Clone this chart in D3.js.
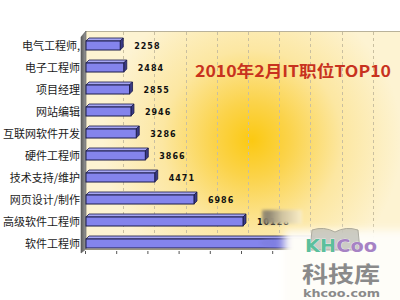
<!DOCTYPE html>
<html>
<head>
<meta charset="utf-8">
<script src="https://cdn.jsdelivr.net/npm/d3@7"></script>
<style>
  html, body { margin: 0; padding: 0; background: #fff; }
  svg { display: block; }
</style>
</head>
<body>
<svg id="chart" width="400" height="300"></svg>
<script>
// IT job postings, February 2010 (top 10)
const categories = ["电气工程师,", "电子工程师", "项目经理", "网站编辑", "互联网软件开发",
                    "硬件工程师", "技术支持/维护", "网页设计/制作", "高级软件工程师", "软件工程师"];
const values = [2258, 2484, 2855, 2946, 3286, 3866, 4471, 6986, 10128, 14500];
const tickValues = [0, 2000, 4000, 6000, 8000, 10000, 12000, 14000, 16000, 18000, 20000];
const title = "2010年2月IT职位TOP10";

const svg = d3.select("#chart");
const defs = svg.append("defs");

// scales
const x = d3.scaleLinear().domain([0, 20000]).range([85, 397]);
const y = d3.scaleBand().domain(categories).range([34.5, 254.5])
  .paddingInner(0.59).paddingOuter(0.295);

const depth = 6;          // depth of the chart box
const barDepth = 3;       // depth of each bar
const backTop = 31, floorY = 249;

// back wall glow
const glow = defs.append("radialGradient").attr("id", "glow")
  .attr("gradientUnits", "userSpaceOnUse")
  .attr("cx", 252).attr("cy", 140).attr("r", 150);
glow.append("stop").attr("offset", 0).attr("stop-color", "#fbc912");
glow.append("stop").attr("offset", 0.25).attr("stop-color", "#fbd34a");
glow.append("stop").attr("offset", 0.6).attr("stop-color", "#fce7a2");
glow.append("stop").attr("offset", 1).attr("stop-color", "#fdf3d2");

const wallGrad = defs.append("linearGradient").attr("id", "wall")
  .attr("x1", 0).attr("x2", 1).attr("y1", 0).attr("y2", 0);
wallGrad.append("stop").attr("offset", 0).attr("stop-color", "#5c5c5c");
wallGrad.append("stop").attr("offset", 1).attr("stop-color", "#9a9a9a");

const smudge = defs.append("linearGradient").attr("id", "smudge")
  .attr("x1", 0).attr("x2", 1).attr("y1", 0).attr("y2", 0);
smudge.append("stop").attr("offset", 0).attr("stop-color", "#8a8270").attr("stop-opacity", 0.8);
smudge.append("stop").attr("offset", 0.15).attr("stop-color", "#8a8270").attr("stop-opacity", 0.97);
smudge.append("stop").attr("offset", 0.5).attr("stop-color", "#cfc3a0").attr("stop-opacity", 1);
smudge.append("stop").attr("offset", 1).attr("stop-color", "#fbeec6").attr("stop-opacity", 1);

// two-colour fill for the logo letters
const logoFill = defs.append("linearGradient").attr("id", "logoFill")
  .attr("gradientUnits", "userSpaceOnUse")
  .attr("x1", 305).attr("x2", 377).attr("y1", 0).attr("y2", 0);
logoFill.append("stop").attr("offset", 0).attr("stop-color", "#5cbf9c");
logoFill.append("stop").attr("offset", 0.4).attr("stop-color", "#5cbf9c");
logoFill.append("stop").attr("offset", 0.4).attr("stop-color", "#a682c4");
logoFill.append("stop").attr("offset", 1).attr("stop-color", "#a682c4");

const blur = defs.append("filter").attr("id", "soft")
  .attr("x", -0.5).attr("y", -0.5).attr("width", 2).attr("height", 2);
blur.append("feGaussianBlur").attr("stdDeviation", 4);
const blur2 = defs.append("filter").attr("id", "soft2")
  .attr("x", -0.5).attr("y", -0.5).attr("width", 2).attr("height", 2);
blur2.append("feGaussianBlur").attr("stdDeviation", 1.5);

// back wall
svg.append("rect")
  .attr("x", x(0) + 1).attr("y", backTop)
  .attr("width", 400 - x(0)).attr("height", floorY - backTop)
  .attr("fill", "url(#glow)");
svg.append("line")
  .attr("x1", x(0) + 1).attr("x2", 400).attr("y1", backTop + 0.5).attr("y2", backTop + 0.5)
  .attr("stroke", "#b9b29a").attr("stroke-width", 1);

// dashed grid lines on the back wall
svg.append("g").selectAll("line")
  .data(tickValues.filter(d => d > 0))
  .join("line")
  .attr("x1", d => Math.round(x(d) + depth + 1) + 0.5)
  .attr("x2", d => Math.round(x(d) + depth + 1) + 0.5)
  .attr("y1", backTop + 1).attr("y2", floorY - 1)
  .attr("stroke", "#c9bfa0").attr("stroke-width", 1)
  .attr("stroke-dasharray", "3,3");

// left wall
svg.append("polygon")
  .attr("points", [[x(0) - 4, backTop + depth], [x(0) + 1, backTop],
                   [x(0) + 1, floorY], [x(0) - 4, floorY + 4]].join(" "))
  .attr("fill", "url(#wall)").attr("stroke", "#555").attr("stroke-width", 0.6);

// floor line and ticks
svg.append("line")
  .attr("x1", x(0)).attr("x2", 400).attr("y1", floorY + 0.5).attr("y2", floorY + 0.5)
  .attr("stroke", "#9a9480").attr("stroke-width", 1);
const xAxis = d3.axisBottom(x).tickValues(tickValues).tickSize(3).tickFormat("");
svg.append("g").attr("transform", `translate(0,${floorY + 2})`).call(xAxis)
  .call(g => g.select(".domain").remove())
  .call(g => g.selectAll(".tick line").attr("stroke", "#555"));

// bars
const bars = svg.append("g").selectAll("g")
  .data(categories.map((c, i) => ({ c, v: values[i] })))
  .join("g");

bars.append("polygon") // top face
  .attr("points", d => {
    const y0 = y(d.c), x1 = x(d.v);
    return [[x(0) + 1, y0], [x(0) + 1 + barDepth, y0 - barDepth],
            [x1 + barDepth, y0 - barDepth], [x1, y0]].join(" ");
  })
  .attr("fill", "#a6a6f2").attr("stroke", "#1c1c4a").attr("stroke-width", 0.8);

bars.append("polygon") // side face
  .attr("points", d => {
    const y0 = y(d.c), x1 = x(d.v), h = y.bandwidth();
    return [[x1, y0], [x1 + barDepth, y0 - barDepth],
            [x1 + barDepth, y0 + h - barDepth], [x1, y0 + h]].join(" ");
  })
  .attr("fill", "#3a3a86").attr("stroke", "#1c1c4a").attr("stroke-width", 0.8);

bars.append("rect") // front face
  .attr("x", x(0) + 1).attr("y", d => y(d.c))
  .attr("width", d => x(d.v) - x(0) - 1).attr("height", y.bandwidth())
  .attr("fill", "#8484ec").attr("stroke", "#1c1c4a").attr("stroke-width", 1);

// value labels
bars.append("text")
  .attr("x", d => x(d.v) + barDepth + 11)
  .attr("y", d => y(d.c) + y.bandwidth() / 2 + 3)
  .attr("font-family", "DejaVu Sans, Verdana, sans-serif")
  .attr("font-size", 8).attr("font-weight", "bold")
  .attr("letter-spacing", 1)
  .attr("fill", "#111")
  .text(d => d.v);

// category labels
svg.append("g").selectAll("text")
  .data(categories)
  .join("text")
  .attr("x", 80)
  .attr("y", d => y(d) + y.bandwidth() / 2 + 4.5)
  .attr("text-anchor", "end")
  .attr("font-family", "Noto Sans CJK SC, sans-serif")
  .attr("font-size", 11)
  .attr("fill", "#1a1a1a")
  .text(d => d);

// title
svg.append("text")
  .attr("x", 195).attr("y", 76.5)
  .attr("font-family", "Noto Sans CJK SC, sans-serif")
  .attr("font-size", 16).attr("font-weight", "bold")
  .attr("fill", "#c8321e")
  .attr("textLength", 196).attr("lengthAdjust", "spacingAndGlyphs")
  .text(title);

// site mark in the lower right corner
const mark = svg.append("g");
mark.append("rect").attr("x", 262).attr("y", 210).attr("width", 40).attr("height", 14)
  .attr("fill", "url(#smudge)").attr("filter", "url(#soft2)");
mark.append("ellipse").attr("cx", 282).attr("cy", 243).attr("rx", 22).attr("ry", 5)
  .attr("fill", "#7c7cdc").attr("opacity", 0.6).attr("filter", "url(#soft2)");
mark.append("rect").attr("x", 284).attr("y", 230).attr("width", 140).attr("height", 90)
  .attr("fill", "#fefdf8").attr("filter", "url(#soft)");

// open book outline behind the letters
mark.append("path")
  .attr("d", "M310,250 L312,230 Q324,226 335,232 Q346,226 358,230 L360,250 Z")
  .attr("fill", "#b8b8b0").attr("opacity", 0.7).attr("stroke", "#8a8a80").attr("stroke-width", 1);
mark.append("text").attr("x", 305).attr("y", 252)
  .attr("font-family", "DejaVu Sans, sans-serif").attr("font-weight", "bold")
  .attr("font-size", 18).attr("fill", "url(#logoFill)")
  .attr("stroke", "#ffffff").attr("stroke-width", 0.6).attr("paint-order", "stroke")
  .attr("textLength", 72).attr("lengthAdjust", "spacingAndGlyphs")
  .text("KHCoo");
mark.append("text").attr("x", 302).attr("y", 282)
  .attr("font-family", "Noto Sans CJK SC, sans-serif").attr("font-weight", "bold")
  .attr("font-size", 22).attr("fill", "#8a8a8a")
  .attr("textLength", 78).attr("lengthAdjust", "spacingAndGlyphs")
  .text("科技库");
mark.append("text").attr("x", 303).attr("y", 297)
  .attr("font-family", "DejaVu Sans, sans-serif").attr("font-weight", "bold")
  .attr("font-size", 11).attr("fill", "#8a8a8a")
  .attr("textLength", 77).attr("lengthAdjust", "spacingAndGlyphs")
  .text("khcoo.com");
</script>
</body>
</html>
